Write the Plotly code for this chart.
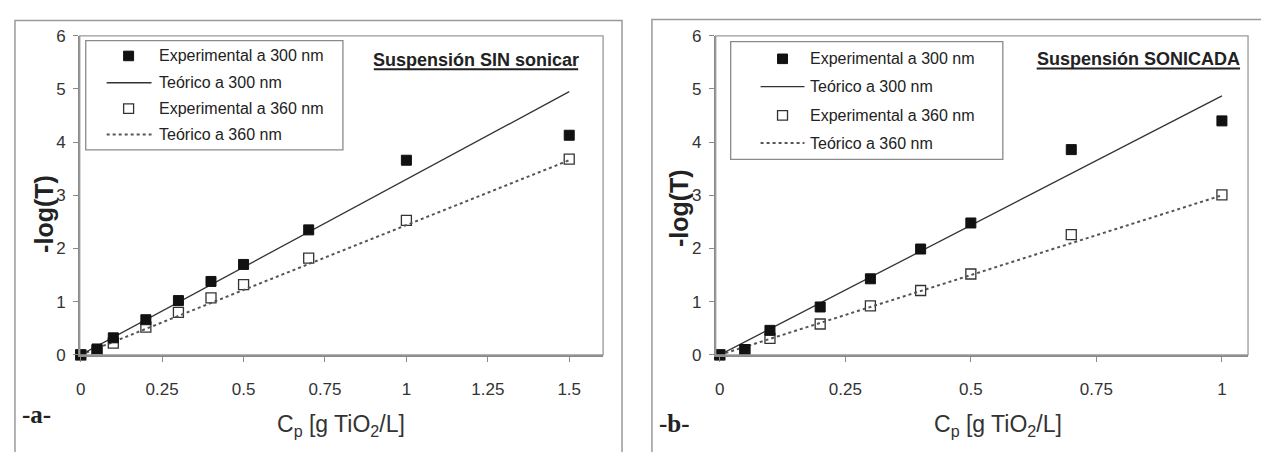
import plotly.graph_objects as go

# Concentration of TiO2 (g/L) and measured/theoretical -log(T)
cp_a = [0, 0.05, 0.1, 0.2, 0.3, 0.4, 0.5, 0.7, 1.0, 1.5]
exp300_a = [0.0, 0.11, 0.32, 0.66, 1.02, 1.38, 1.70, 2.35, 3.66, 4.13]
exp360_a = [0.0, 0.08, 0.22, 0.52, 0.80, 1.07, 1.32, 1.82, 2.53, 3.68]
teo_x_a = [0, 1.5]
teo300_a = [0, 4.95]
teo360_a = [0, 3.66]

cp_b = [0, 0.05, 0.1, 0.2, 0.3, 0.4, 0.5, 0.7, 1.0]
exp300_b = [0.0, 0.10, 0.46, 0.90, 1.43, 1.99, 2.48, 3.86, 4.40]
exp360_b = [0.0, 0.08, 0.31, 0.58, 0.92, 1.21, 1.52, 2.26, 3.01]
teo_x_b = [0, 1.0]
teo300_b = [0, 4.87]
teo360_b = [0, 3.00]

xticks_a = [0, 0.25, 0.5, 0.75, 1, 1.25, 1.5]
xticks_b = [0, 0.25, 0.5, 0.75, 1]
yticks = [0, 1, 2, 3, 4, 5, 6]

names = ["Experimental a 300 nm", "Teórico a 300 nm",
         "Experimental a 360 nm", "Teórico a 360 nm"]

W, H = 1261, 452


def fx(p):
    return p / W


def fy(p):
    return 1 - p / H


FONT = "Liberation Sans, Arial, sans-serif"
SERIF = "Liberation Serif, Times New Roman, serif"
INK = "#222222"
AXC = "#8a8a8a"

FILLED = dict(symbol="square", size=10, color="#111111",
              line=dict(color="#111111", width=1))
OPEN = dict(symbol="square", size=10, color="white",
            line=dict(color="#333333", width=1.3))
SOLID = dict(color="#333333", width=1.3)
DOTTED = dict(color="#555555", width=2, dash="dot")

fig = go.Figure()


def add_panel(xs, e300, e360, tx, t300, t360, xa, ya):
    common = dict(xaxis=xa, yaxis=ya, showlegend=False, cliponaxis=False)
    fig.add_trace(go.Scatter(x=xs, y=e360, mode="markers", name=names[2],
                             marker=OPEN, **common))
    fig.add_trace(go.Scatter(x=tx, y=t360, mode="lines", name=names[3],
                             line=DOTTED, **common))
    fig.add_trace(go.Scatter(x=tx, y=t300, mode="lines", name=names[1],
                             line=SOLID, **common))
    fig.add_trace(go.Scatter(x=xs, y=e300, mode="markers", name=names[0],
                             marker=FILLED, **common))


add_panel(cp_a, exp300_a, exp360_a, teo_x_a, teo300_a, teo360_a, "x", "y")
add_panel(cp_b, exp300_b, exp360_b, teo_x_b, teo300_b, teo360_b, "x2", "y2")

axis_common = dict(
    showgrid=False, zeroline=False, showline=True, linecolor=AXC, linewidth=1.5,
    ticks="outside", ticklen=5, tickcolor=AXC, tickwidth=1.2,
    tickfont=dict(family=FONT, size=17, color="#333333"),
    mirror=False, fixedrange=True,
)

ydom = [fy(361), fy(28)]
fig.update_layout(
    width=W, height=H,
    margin=dict(l=0, r=0, t=0, b=0),
    paper_bgcolor="white", plot_bgcolor="white",
    showlegend=False,
    xaxis=dict(domain=[fx(76), fx(601)], range=[-0.003, 1.604],
               tickvals=xticks_a, ticktext=[str(v) for v in xticks_a],
               ticklabelstandoff=13, anchor="y", **axis_common),
    yaxis=dict(domain=ydom, range=[0, 6], tickvals=yticks,
               ticklabelstandoff=4, anchor="x", **axis_common),
    xaxis2=dict(domain=[fx(714), fx(1248)], range=[-0.008, 1.052],
                tickvals=xticks_b, ticktext=[str(v) for v in xticks_b],
                ticklabelstandoff=13, anchor="y2", **axis_common),
    yaxis2=dict(domain=ydom, range=[0, 6], tickvals=yticks,
                ticklabelstandoff=4, anchor="x2", **axis_common),
)

shapes = [
    # panel frames
    dict(type="rect", xref="paper", yref="paper", x0=fx(11), x1=fx(620),
         y0=fy(470), y1=fy(12), line=dict(color="#9a9a9a", width=1.5)),
    dict(type="rect", xref="paper", yref="paper", x0=fx(650), x1=fx(1280),
         y0=fy(470), y1=fy(11), line=dict(color="#9a9a9a", width=1.5)),
    # plot-area borders
    dict(type="rect", xref="x domain", yref="y domain", x0=0, x1=1, y0=0, y1=1,
         line=dict(color="#9a9a9a", width=1.3)),
    dict(type="rect", xref="x2 domain", yref="y2 domain", x0=0, x1=1, y0=0, y1=1,
         line=dict(color="#9a9a9a", width=1.3)),
]

ann = []


def text(x, y, s, size, family=FONT, angle=0, color=INK, xanchor="center"):
    ann.append(dict(x=fx(x), y=fy(y), xref="paper", yref="paper", text=s,
                    showarrow=False, textangle=angle, xanchor=xanchor,
                    yanchor="middle",
                    font=dict(family=family, size=size, color=color)))


def underlined_title(x0, x1, y, s):
    """Bold panel caption with a heavy rule underneath."""
    text((x0 + x1) / 2, y, "<b>" + s + "</b>", 18)
    shapes.append(dict(type="line", xref="paper", yref="paper",
                       x0=fx(x0), x1=fx(x1), y0=fy(y + 10), y1=fy(y + 10),
                       line=dict(color=INK, width=2)))


def legend_box(x0, x1, y0, y1, mx, lx0, lx1, tx, rows):
    """Boxed key: marker/line samples followed by the series names."""
    shapes.append(dict(type="rect", xref="paper", yref="paper",
                       x0=fx(x0), x1=fx(x1), y0=fy(y1), y1=fy(y0),
                       line=dict(color="#8a8a8a", width=1.3),
                       fillcolor="white", layer="below"))
    styles = [("m", FILLED), ("l", SOLID), ("m", OPEN), ("l", DOTTED)]
    for (kind, st), ry, name in zip(styles, rows, names):
        if kind == "m":
            h = st["size"] / 2
            shapes.append(dict(type="rect", xref="paper", yref="paper",
                               x0=fx(mx - h), x1=fx(mx + h),
                               y0=fy(ry + h), y1=fy(ry - h),
                               fillcolor=st["color"],
                               line=dict(color=st["line"]["color"],
                                         width=st["line"]["width"])))
        else:
            shapes.append(dict(type="line", xref="paper", yref="paper",
                               x0=fx(lx0), x1=fx(lx1), y0=fy(ry), y1=fy(ry),
                               line=st))
        text(tx, ry, name, 16, xanchor="left")


legend_box(82, 340, 33, 147, 125, 103, 148, 153, [49, 77, 104, 131])
legend_box(729, 1002, 34, 157, 781, 759, 803, 807, [52, 81, 111, 140])

underlined_title(371, 576, 53, "Suspensión SIN sonicar")
underlined_title(1036, 1240, 52, "Suspensión SONICADA")
text(40, 214, "<b>-log(T)</b>", 25, angle=-90)
text(677, 208, "<b>-log(T)</b>", 25, angle=-90)
text(338, 435, "C<sub>p</sub> [g TiO<sub>2</sub>/L]", 23, color="#333333")
text(997, 435, "C<sub>p</sub> [g TiO<sub>2</sub>/L]", 23, color="#333333")
text(33, 423, "<b>-a-</b>", 25, family=SERIF)
text(673, 433, "<b>-b-</b>", 25, family=SERIF)

fig.update_layout(shapes=shapes, annotations=ann)

fig.write_html("out.html")
